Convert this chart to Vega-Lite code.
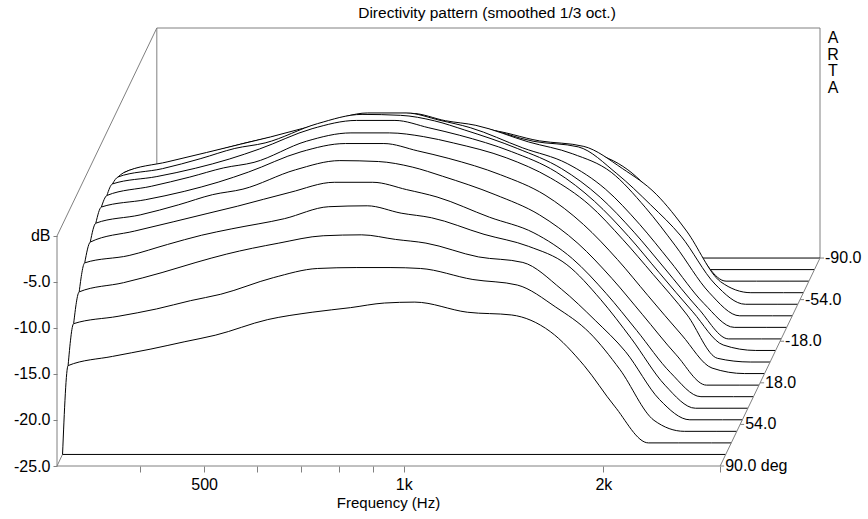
{
  "$schema": "https://vega.github.io/schema/vega-lite/v6.json",
  "width": 763,
  "height": 438,
  "autosize": {"type": "none"},
  "padding": {"left": 57, "top": 28, "right": 48, "bottom": 53},
  "background": "white",
  "config": {"view": {"stroke": null}, "font": "Liberation Sans"},
  "title": {
    "text": "Directivity pattern (smoothed 1/3 oct.)",
    "fontSize": 15.5, "fontWeight": "normal", "color": "black",
    "anchor": "middle", "dx": 48.5, "dy": 16, "baseline": "alphabetic", "offset": 10
  },
  "data": {"values": [{}]},
  "layer": [
    {
      "data": {"values": [
        {"a":-90,"f":300,"v":-25},{"a":-90,"f":3000,"v":-25},
        {"a":-80,"f":300,"v":-25},{"a":-80,"f":3000,"v":-25},
        {"a":80,"f":300,"v":-25},{"a":80,"f":3000,"v":-25},
        {"a":-70,"f":300,"v":-16.6},{"a":-70,"f":350,"v":-15.6},{"a":-70,"f":400,"v":-14.8},{"a":-70,"f":450,"v":-14.0},{"a":-70,"f":500,"v":-13.3},{"a":-70,"f":600,"v":-11.6},{"a":-70,"f":700,"v":-10.8},{"a":-70,"f":800,"v":-10.3},{"a":-70,"f":900,"v":-9.8},{"a":-70,"f":1000,"v":-9.7},{"a":-70,"f":1200,"v":-10.8},{"a":-70,"f":1400,"v":-11.1},{"a":-70,"f":1600,"v":-12.9},{"a":-70,"f":1800,"v":-16.6},{"a":-70,"f":2000,"v":-21.0},{"a":-70,"f":2250,"v":-25},{"a":-70,"f":2500,"v":-25},{"a":-70,"f":2800,"v":-25},{"a":-70,"f":3000,"v":-25},
        {"a":70,"f":300,"v":-16.6},{"a":70,"f":350,"v":-15.6},{"a":70,"f":400,"v":-14.8},{"a":70,"f":450,"v":-14.0},{"a":70,"f":500,"v":-13.3},{"a":70,"f":600,"v":-11.6},{"a":70,"f":700,"v":-10.8},{"a":70,"f":800,"v":-10.3},{"a":70,"f":900,"v":-9.8},{"a":70,"f":1000,"v":-9.7},{"a":70,"f":1200,"v":-10.8},{"a":70,"f":1400,"v":-11.1},{"a":70,"f":1600,"v":-12.9},{"a":70,"f":1800,"v":-16.6},{"a":70,"f":2000,"v":-21.0},{"a":70,"f":2250,"v":-25},{"a":70,"f":2500,"v":-25},{"a":70,"f":2800,"v":-25},{"a":70,"f":3000,"v":-25},
        {"a":-60,"f":300,"v":-13.3},{"a":-60,"f":350,"v":-12.5},{"a":-60,"f":400,"v":-11.7},{"a":-60,"f":450,"v":-10.8},{"a":-60,"f":500,"v":-10.1},{"a":-60,"f":600,"v":-8.3},{"a":-60,"f":700,"v":-7.3},{"a":-60,"f":800,"v":-7.2},{"a":-60,"f":900,"v":-7.2},{"a":-60,"f":1000,"v":-7.3},{"a":-60,"f":1200,"v":-8.5},{"a":-60,"f":1400,"v":-9.1},{"a":-60,"f":1600,"v":-11.5},{"a":-60,"f":1800,"v":-14.3},{"a":-60,"f":2000,"v":-18.3},{"a":-60,"f":2250,"v":-23.8},{"a":-60,"f":2500,"v":-25},{"a":-60,"f":2800,"v":-25},{"a":-60,"f":3000,"v":-25},
        {"a":60,"f":300,"v":-13.3},{"a":60,"f":350,"v":-12.5},{"a":60,"f":400,"v":-11.7},{"a":60,"f":450,"v":-10.8},{"a":60,"f":500,"v":-10.1},{"a":60,"f":600,"v":-8.3},{"a":60,"f":700,"v":-7.3},{"a":60,"f":800,"v":-7.2},{"a":60,"f":900,"v":-7.2},{"a":60,"f":1000,"v":-7.3},{"a":60,"f":1200,"v":-8.5},{"a":60,"f":1400,"v":-9.1},{"a":60,"f":1600,"v":-11.5},{"a":60,"f":1800,"v":-14.3},{"a":60,"f":2000,"v":-18.3},{"a":60,"f":2250,"v":-23.8},{"a":60,"f":2500,"v":-25},{"a":60,"f":2800,"v":-25},{"a":60,"f":3000,"v":-25},
        {"a":-50,"f":300,"v":-11.1},{"a":-50,"f":350,"v":-10.1},{"a":-50,"f":400,"v":-9.0},{"a":-50,"f":450,"v":-7.9},{"a":-50,"f":500,"v":-7.0},{"a":-50,"f":600,"v":-5.8},{"a":-50,"f":700,"v":-5.0},{"a":-50,"f":800,"v":-4.9},{"a":-50,"f":900,"v":-5.4},{"a":-50,"f":1000,"v":-5.8},{"a":-50,"f":1200,"v":-7.3},{"a":-50,"f":1400,"v":-7.9},{"a":-50,"f":1600,"v":-10.8},{"a":-50,"f":1800,"v":-14.2},{"a":-50,"f":2000,"v":-17.6},{"a":-50,"f":2250,"v":-22.8},{"a":-50,"f":2500,"v":-25},{"a":-50,"f":2800,"v":-25},{"a":-50,"f":3000,"v":-25},
        {"a":50,"f":300,"v":-11.1},{"a":50,"f":350,"v":-10.1},{"a":50,"f":400,"v":-9.0},{"a":50,"f":450,"v":-7.9},{"a":50,"f":500,"v":-7.0},{"a":50,"f":600,"v":-5.8},{"a":50,"f":700,"v":-5.0},{"a":50,"f":800,"v":-4.9},{"a":50,"f":900,"v":-5.4},{"a":50,"f":1000,"v":-5.8},{"a":50,"f":1200,"v":-7.3},{"a":50,"f":1400,"v":-7.9},{"a":50,"f":1600,"v":-10.8},{"a":50,"f":1800,"v":-14.2},{"a":50,"f":2000,"v":-17.6},{"a":50,"f":2250,"v":-22.8},{"a":50,"f":2500,"v":-25},{"a":50,"f":2800,"v":-25},{"a":50,"f":3000,"v":-25},
        {"a":-40,"f":300,"v":-9.2},{"a":-40,"f":350,"v":-8.4},{"a":-40,"f":400,"v":-7.2},{"a":-40,"f":450,"v":-6.2},{"a":-40,"f":500,"v":-5.5},{"a":-40,"f":600,"v":-4.4},{"a":-40,"f":700,"v":-3.1},{"a":-40,"f":800,"v":-3.0},{"a":-40,"f":900,"v":-3.8},{"a":-40,"f":1000,"v":-4.3},{"a":-40,"f":1200,"v":-6.1},{"a":-40,"f":1400,"v":-7.4},{"a":-40,"f":1600,"v":-9.4},{"a":-40,"f":1800,"v":-13.2},{"a":-40,"f":2000,"v":-17.4},{"a":-40,"f":2250,"v":-22.5},{"a":-40,"f":2500,"v":-25},{"a":-40,"f":2800,"v":-25},{"a":-40,"f":3000,"v":-25},
        {"a":40,"f":300,"v":-9.2},{"a":40,"f":350,"v":-8.4},{"a":40,"f":400,"v":-7.2},{"a":40,"f":450,"v":-6.2},{"a":40,"f":500,"v":-5.5},{"a":40,"f":600,"v":-4.4},{"a":40,"f":700,"v":-3.1},{"a":40,"f":800,"v":-3.0},{"a":40,"f":900,"v":-3.8},{"a":40,"f":1000,"v":-4.3},{"a":40,"f":1200,"v":-6.1},{"a":40,"f":1400,"v":-7.4},{"a":40,"f":1600,"v":-9.4},{"a":40,"f":1800,"v":-13.2},{"a":40,"f":2000,"v":-17.4},{"a":40,"f":2250,"v":-22.5},{"a":40,"f":2500,"v":-25},{"a":40,"f":2800,"v":-25},{"a":40,"f":3000,"v":-25},
        {"a":-30,"f":300,"v":-8.2},{"a":-30,"f":350,"v":-7.0},{"a":-30,"f":400,"v":-6.0},{"a":-30,"f":450,"v":-5.1},{"a":-30,"f":500,"v":-4.3},{"a":-30,"f":600,"v":-2.8},{"a":-30,"f":700,"v":-1.7},{"a":-30,"f":800,"v":-1.7},{"a":-30,"f":900,"v":-2.5},{"a":-30,"f":1000,"v":-3.3},{"a":-30,"f":1200,"v":-5.5},{"a":-30,"f":1400,"v":-7.2},{"a":-30,"f":1600,"v":-10.0},{"a":-30,"f":1800,"v":-13.8},{"a":-30,"f":2000,"v":-17.8},{"a":-30,"f":2250,"v":-22.4},{"a":-30,"f":2500,"v":-25},{"a":-30,"f":2800,"v":-25},{"a":-30,"f":3000,"v":-25},
        {"a":30,"f":300,"v":-8.2},{"a":30,"f":350,"v":-7.0},{"a":30,"f":400,"v":-6.0},{"a":30,"f":450,"v":-5.1},{"a":30,"f":500,"v":-4.3},{"a":30,"f":600,"v":-2.8},{"a":30,"f":700,"v":-1.7},{"a":30,"f":800,"v":-1.7},{"a":30,"f":900,"v":-2.5},{"a":30,"f":1000,"v":-3.3},{"a":30,"f":1200,"v":-5.5},{"a":30,"f":1400,"v":-7.2},{"a":30,"f":1600,"v":-10.0},{"a":30,"f":1800,"v":-13.8},{"a":30,"f":2000,"v":-17.8},{"a":30,"f":2250,"v":-22.4},{"a":30,"f":2500,"v":-25},{"a":30,"f":2800,"v":-25},{"a":30,"f":3000,"v":-25},
        {"a":-20,"f":300,"v":-7.4},{"a":-20,"f":350,"v":-6.5},{"a":-20,"f":400,"v":-5.4},{"a":-20,"f":450,"v":-4.3},{"a":-20,"f":500,"v":-3.7},{"a":-20,"f":600,"v":-1.6},{"a":-20,"f":700,"v":-0.6},{"a":-20,"f":800,"v":-0.7},{"a":-20,"f":900,"v":-1.3},{"a":-20,"f":1000,"v":-2.3},{"a":-20,"f":1200,"v":-4.3},{"a":-20,"f":1400,"v":-6.5},{"a":-20,"f":1600,"v":-9.6},{"a":-20,"f":1800,"v":-13.4},{"a":-20,"f":2000,"v":-17.3},{"a":-20,"f":2250,"v":-21.7},{"a":-20,"f":2500,"v":-25},{"a":-20,"f":2800,"v":-25},{"a":-20,"f":3000,"v":-25},
        {"a":20,"f":300,"v":-7.4},{"a":20,"f":350,"v":-6.5},{"a":20,"f":400,"v":-5.4},{"a":20,"f":450,"v":-4.3},{"a":20,"f":500,"v":-3.7},{"a":20,"f":600,"v":-1.6},{"a":20,"f":700,"v":-0.6},{"a":20,"f":800,"v":-0.7},{"a":20,"f":900,"v":-1.3},{"a":20,"f":1000,"v":-2.3},{"a":20,"f":1200,"v":-4.3},{"a":20,"f":1400,"v":-6.5},{"a":20,"f":1600,"v":-9.6},{"a":20,"f":1800,"v":-13.4},{"a":20,"f":2000,"v":-17.3},{"a":20,"f":2250,"v":-21.7},{"a":20,"f":2500,"v":-25},{"a":20,"f":2800,"v":-25},{"a":20,"f":3000,"v":-25},
        {"a":-10,"f":300,"v":-6.9},{"a":-10,"f":350,"v":-6.1},{"a":-10,"f":400,"v":-5.2},{"a":-10,"f":450,"v":-4.2},{"a":-10,"f":500,"v":-3.1},{"a":-10,"f":600,"v":-0.9},{"a":-10,"f":700,"v":0.0},{"a":-10,"f":800,"v":0.0},{"a":-10,"f":900,"v":-0.8},{"a":-10,"f":1000,"v":-1.6},{"a":-10,"f":1200,"v":-3.4},{"a":-10,"f":1400,"v":-5.6},{"a":-10,"f":1600,"v":-8.8},{"a":-10,"f":1800,"v":-12.6},{"a":-10,"f":2000,"v":-16.5},{"a":-10,"f":2250,"v":-20.8},{"a":-10,"f":2500,"v":-24.4},{"a":-10,"f":2800,"v":-25},{"a":-10,"f":3000,"v":-25},
        {"a":10,"f":300,"v":-6.9},{"a":10,"f":350,"v":-6.1},{"a":10,"f":400,"v":-5.2},{"a":10,"f":450,"v":-4.2},{"a":10,"f":500,"v":-3.1},{"a":10,"f":600,"v":-0.9},{"a":10,"f":700,"v":0.0},{"a":10,"f":800,"v":0.0},{"a":10,"f":900,"v":-0.8},{"a":10,"f":1000,"v":-1.6},{"a":10,"f":1200,"v":-3.4},{"a":10,"f":1400,"v":-5.6},{"a":10,"f":1600,"v":-8.8},{"a":10,"f":1800,"v":-12.6},{"a":10,"f":2000,"v":-16.5},{"a":10,"f":2250,"v":-20.8},{"a":10,"f":2500,"v":-24.4},{"a":10,"f":2800,"v":-25},{"a":10,"f":3000,"v":-25},
        {"a":0,"f":300,"v":-6.9},{"a":0,"f":350,"v":-5.9},{"a":0,"f":400,"v":-4.9},{"a":0,"f":450,"v":-3.9},{"a":0,"f":500,"v":-3.3},{"a":0,"f":600,"v":-1.0},{"a":0,"f":700,"v":-0.1},{"a":0,"f":800,"v":-0.1},{"a":0,"f":900,"v":-0.5},{"a":0,"f":1000,"v":-1.2},{"a":0,"f":1200,"v":-2.8},{"a":0,"f":1400,"v":-5.0},{"a":0,"f":1600,"v":-7.9},{"a":0,"f":1800,"v":-11.7},{"a":0,"f":2000,"v":-15.5},{"a":0,"f":2250,"v":-19.9},{"a":0,"f":2500,"v":-24.6},{"a":0,"f":2800,"v":-25},{"a":0,"f":3000,"v":-25}
      ]},
      "transform": [
        {"calculate": "(90 - datum.a) / 180", "as": "t"},
        {"calculate": "datum.f * pow(2, 0.5 * datum.t)", "as": "X"},
        {"calculate": "max(datum.v, -25) + 22.6 * datum.t", "as": "Y"},
        {"calculate": "-25 + 22.6 * datum.t", "as": "Y0"}
      ],
      "encoding": {
        "x": {
          "field": "X", "type": "quantitative",
          "scale": {"type": "log", "domain": [300, 4242.64], "nice": false},
          "axis": {
            "values": [400, 500, 600, 700, 800, 900, 1000, 2000, 3000],
            "labelExpr": "datum.value == 500 ? '500' : datum.value == 1000 ? '1k' : datum.value == 2000 ? '2k' : ''",
            "domain": false, "grid": false, "tickColor": "#808080", "tickSize": 6,
            "labelPadding": 4, "labelFontSize": 16, "labelColor": "black",
            "labelFlush": false, "labelOverlap": false,
            "title": "Frequency (Hz)", "titleFontSize": 15, "titleFontWeight": "normal",
            "titleColor": "black", "titleX": 331, "titlePadding": 3
          }
        },
        "y": {
          "field": "Y", "type": "quantitative", "stack": null,
          "scale": {"domain": [-25, 22.6], "nice": false, "zero": false},
          "axis": {
            "values": [-25, -20, -15, -10, -5, 0],
            "labelExpr": "datum.value == 0 ? 'dB' : datum.value + '.0'",
            "domain": false, "grid": false, "tickColor": "#808080", "tickSize": 4,
            "labelPadding": 3, "labelFontSize": 16, "labelColor": "black", "title": null
          }
        },
        "y2": {"field": "Y0"}
      },
      "layer": [
        {"mark": {"type": "rule", "color": "#808080"}, "encoding": {"x": {"datum": 424.26}, "x2": {"datum": 4242.64}, "y": {"datum": 22.6}, "y2": null}, "transform": [{"filter": "datum.a == -90 && datum.f == 300"}]},
        {"mark": {"type": "rule", "color": "#808080"}, "encoding": {"x": {"datum": 424.26}, "y": {"datum": 22.6}, "y2": {"datum": -2.4}}, "transform": [{"filter": "datum.a == -90 && datum.f == 300"}]},
        {"mark": {"type": "rule", "color": "#808080"}, "encoding": {"x": {"datum": 4242.64}, "y": {"datum": 22.6}, "y2": {"datum": -2.4}}, "transform": [{"filter": "datum.a == -90 && datum.f == 300"}]},
        {"mark": {"type": "rule", "color": "#808080"}, "encoding": {"x": {"datum": 300}, "x2": {"datum": 424.26}, "y": {"datum": 0}, "y2": {"datum": 22.6}}, "transform": [{"filter": "datum.a == -90 && datum.f == 300"}]},
        {"mark": {"type": "rule", "color": "#808080"}, "encoding": {"x": {"datum": 300}, "y": {"datum": -25}, "y2": {"datum": 0}}, "transform": [{"filter": "datum.a == -90 && datum.f == 300"}]},
        {"mark": {"type": "rule", "color": "#808080"}, "encoding": {"x": {"datum": 300}, "x2": {"datum": 3000}, "y": {"datum": -25}, "y2": null}, "transform": [{"filter": "datum.a == -90 && datum.f == 300"}]},
        {"mark": {"type": "rule", "color": "#808080"}, "encoding": {"x": {"datum": 300}, "x2": {"datum": 305.8}, "y": {"datum": -25}, "y2": {"datum": -23.74}}, "transform": [{"filter": "datum.a == -90 && datum.f == 300"}]},
        {"transform": [{"filter": "datum.a == -90 || (datum.a == -80 && datum.f == 300)"}], "mark": {"type": "area", "color": "white", "opacity": 1, "fillOpacity": 1, "interpolate": "monotone", "line": {"color": "black", "strokeWidth": 1}}},
        {"transform": [{"filter": "datum.a == -80 || (datum.a == -70 && datum.f == 300)"}], "mark": {"type": "area", "color": "white", "opacity": 1, "fillOpacity": 1, "interpolate": "monotone", "line": {"color": "black", "strokeWidth": 1}}},
        {"transform": [{"filter": "datum.a == -70 || (datum.a == -60 && datum.f == 300)"}], "mark": {"type": "area", "color": "white", "opacity": 1, "fillOpacity": 1, "interpolate": "monotone", "line": {"color": "black", "strokeWidth": 1}}},
        {"transform": [{"filter": "datum.a == -60 || (datum.a == -50 && datum.f == 300)"}], "mark": {"type": "area", "color": "white", "opacity": 1, "fillOpacity": 1, "interpolate": "monotone", "line": {"color": "black", "strokeWidth": 1}}},
        {"transform": [{"filter": "datum.a == -50 || (datum.a == -40 && datum.f == 300)"}], "mark": {"type": "area", "color": "white", "opacity": 1, "fillOpacity": 1, "interpolate": "monotone", "line": {"color": "black", "strokeWidth": 1}}},
        {"transform": [{"filter": "datum.a == -40 || (datum.a == -30 && datum.f == 300)"}], "mark": {"type": "area", "color": "white", "opacity": 1, "fillOpacity": 1, "interpolate": "monotone", "line": {"color": "black", "strokeWidth": 1}}},
        {"transform": [{"filter": "datum.a == -30 || (datum.a == -20 && datum.f == 300)"}], "mark": {"type": "area", "color": "white", "opacity": 1, "fillOpacity": 1, "interpolate": "monotone", "line": {"color": "black", "strokeWidth": 1}}},
        {"transform": [{"filter": "datum.a == -20 || (datum.a == -10 && datum.f == 300)"}], "mark": {"type": "area", "color": "white", "opacity": 1, "fillOpacity": 1, "interpolate": "monotone", "line": {"color": "black", "strokeWidth": 1}}},
        {"transform": [{"filter": "datum.a == -10 || (datum.a == 0 && datum.f == 300)"}], "mark": {"type": "area", "color": "white", "opacity": 1, "fillOpacity": 1, "interpolate": "monotone", "line": {"color": "black", "strokeWidth": 1}}},
        {"transform": [{"filter": "datum.a == 0 || (datum.a == 10 && datum.f == 300)"}], "mark": {"type": "area", "color": "white", "opacity": 1, "fillOpacity": 1, "interpolate": "monotone", "line": {"color": "black", "strokeWidth": 1}}},
        {"transform": [{"filter": "datum.a == 10 || (datum.a == 20 && datum.f == 300)"}], "mark": {"type": "area", "color": "white", "opacity": 1, "fillOpacity": 1, "interpolate": "monotone", "line": {"color": "black", "strokeWidth": 1}}},
        {"transform": [{"filter": "datum.a == 20 || (datum.a == 30 && datum.f == 300)"}], "mark": {"type": "area", "color": "white", "opacity": 1, "fillOpacity": 1, "interpolate": "monotone", "line": {"color": "black", "strokeWidth": 1}}},
        {"transform": [{"filter": "datum.a == 30 || (datum.a == 40 && datum.f == 300)"}], "mark": {"type": "area", "color": "white", "opacity": 1, "fillOpacity": 1, "interpolate": "monotone", "line": {"color": "black", "strokeWidth": 1}}},
        {"transform": [{"filter": "datum.a == 40 || (datum.a == 50 && datum.f == 300)"}], "mark": {"type": "area", "color": "white", "opacity": 1, "fillOpacity": 1, "interpolate": "monotone", "line": {"color": "black", "strokeWidth": 1}}},
        {"transform": [{"filter": "datum.a == 50 || (datum.a == 60 && datum.f == 300)"}], "mark": {"type": "area", "color": "white", "opacity": 1, "fillOpacity": 1, "interpolate": "monotone", "line": {"color": "black", "strokeWidth": 1}}},
        {"transform": [{"filter": "datum.a == 60 || (datum.a == 70 && datum.f == 300)"}], "mark": {"type": "area", "color": "white", "opacity": 1, "fillOpacity": 1, "interpolate": "monotone", "line": {"color": "black", "strokeWidth": 1}}},
        {"transform": [{"filter": "datum.a == 70 || (datum.a == 80 && datum.f == 300)"}], "mark": {"type": "area", "color": "white", "opacity": 1, "fillOpacity": 1, "interpolate": "monotone", "line": {"color": "black", "strokeWidth": 1}}},
        {"transform": [{"filter": "datum.a == 80"}], "mark": {"type": "area", "color": "white", "opacity": 1, "fillOpacity": 1, "interpolate": "monotone", "line": {"color": "black", "strokeWidth": 1}}},
        {"mark": {"type": "rule", "color": "#808080"}, "encoding": {"x": {"datum": 3000}, "x2": {"datum": 4242.64}, "y": {"datum": -25}, "y2": {"datum": -2.4}}, "transform": [{"filter": "datum.a == -90 && datum.f == 300"}]},
        {"mark": {"type": "text", "text": ["A", "R", "T", "A"], "align": "center", "baseline": "top", "dx": 13, "dy": 2, "fontSize": 16, "lineHeight": 16.5, "color": "black"}, "encoding": {"x": {"datum": 4242.64}, "y": {"datum": 22.6}, "y2": null}, "transform": [{"filter": "datum.a == -90 && datum.f == 300"}]}
      ]
    },
    {
      "data": {"values": [
        {"deg": -90, "label": "-90.0"},
        {"deg": -54, "label": "-54.0"},
        {"deg": -18, "label": "-18.0"},
        {"deg": 18, "label": "\u00a018.0"},
        {"deg": 54, "label": "\u00a054.0"},
        {"deg": 90, "label": "\u00a090.0 deg"}
      ]},
      "transform": [
        {"calculate": "(90 - datum.deg) / 180", "as": "t"},
        {"calculate": "3000 * pow(2, 0.5 * datum.t)", "as": "X"},
        {"calculate": "datum.X * pow(2, 4 / 199.6)", "as": "X2"},
        {"calculate": "-25 + 22.6 * datum.t", "as": "Y"}
      ],
      "layer": [
        {"mark": {"type": "rule", "color": "#808080"}, "encoding": {"x": {"field": "X", "type": "quantitative"}, "x2": {"field": "X2"}, "y": {"field": "Y", "type": "quantitative"}}},
        {"mark": {"type": "text", "align": "left", "baseline": "middle", "dx": 5, "fontSize": 16, "color": "black"}, "encoding": {"x": {"field": "X", "type": "quantitative"}, "y": {"field": "Y", "type": "quantitative"}, "text": {"field": "label"}}}
      ]
    }
  ]
}
